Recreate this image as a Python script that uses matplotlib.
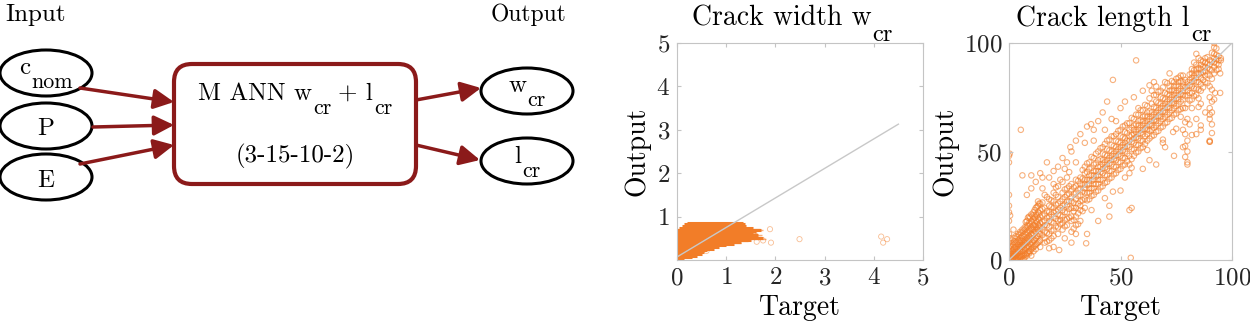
import matplotlib
matplotlib.use("Agg")
import matplotlib.pyplot as plt
from matplotlib.patches import Ellipse, FancyBboxPatch, FancyArrowPatch
from matplotlib.transforms import offset_copy

plt.rcParams['font.family'] = ['cmr10', 'DejaVu Serif']
plt.rcParams['mathtext.fontset'] = 'cm'
plt.rcParams['axes.formatter.use_mathtext'] = True

# ---- data ----
# crack width: dense block of predictions drawn as horizontal rows (output level, target from, target to)
w_rows = [0.02, 0.06, 0.10, 0.14, 0.18, 0.22, 0.26, 0.30, 0.34, 0.38, 0.42,
          0.46, 0.50, 0.54, 0.58, 0.62, 0.66, 0.70, 0.74, 0.78, 0.82, 0.86]
w_row_start = [0.0, 0.0, 0.0, 0.0, 0.0, 0.0, 0.0, 0.0, 0.0, 0.0, 0.0,
               0.0, 0.0, 0.0, 0.0, 0.0, 0.0, 0.0, 0.05, 0.1, 0.15, 0.2]
w_row_end = [0.15, 0.3, 0.4, 0.5, 0.55, 0.6, 0.75, 0.85, 1.0, 1.15, 1.3,
             1.5, 1.75, 1.6, 1.65, 1.55, 1.6, 1.7, 1.55, 1.4, 1.38, 1.35]
# thinner streaks sticking out of the block
w_streak = [0.40, 0.44, 0.48, 0.52, 0.57, 0.63, 0.69, 0.72]
w_streak_end = [1.3, 1.45, 1.8, 1.7, 1.72, 1.62, 1.75, 1.68]
w_out_target = [1.89, 1.91, 2.49, 4.15, 4.19, 4.27, 0.6, 1.62, 1.75, 1.55, 0.3]
w_out_output = [0.71, 0.40, 0.48, 0.54, 0.40, 0.48, 0.21, 0.42, 0.45, 0.62, 0.72]
w_fit = ([0.0, 4.5], [0.07, 3.13])

# crack length: columns of outputs per target value
l_cols = [0, 1, 2, 3, 4, 5, 6, 7, 8, 9, 10, 11, 12, 13, 14, 16, 18, 20, 22, 24,
          26, 28, 30, 32, 34, 36, 38, 40, 42, 44, 46, 48, 50, 52, 54, 56, 58,
          60, 62, 64, 66, 68, 70, 72, 74, 76, 78, 80, 82, 84, 86, 88, 90, 92, 94, 95]
l_col_out = [
    [0, 1, 2, 3, 5, 8, 12, 18, 22, 25, 30, 45, 48],
    [0, 1, 2, 4, 6, 9, 3],
    [0, 1, 3, 5, 7, 10, 2, 14],
    [1, 2, 4, 6, 8, 11, 3, 0],
    [1, 3, 5, 7, 9, 12, 0, 4],
    [2, 4, 6, 8, 10, 13, 1, 5],
    [2, 4, 6, 9, 11, 14, 0, 7],
    [3, 5, 7, 9, 12, 15, 1, 8],
    [3, 6, 8, 10, 13, 16, 2, 18],
    [4, 6, 9, 11, 14, 17, 3, 20],
    [5, 7, 10, 12, 15, 18, 2, 21],
    [6, 9, 12, 14, 16, 19, 22, 4],
    [7, 10, 13, 15, 18, 21, 24, 5],
    [8, 11, 14, 16, 19, 22, 25, 27],
    [9, 12, 15, 17, 20, 23, 26, 6],
    [10, 13, 16, 18, 21, 24, 8, 30],
    [12, 15, 18, 20, 22, 25, 9, 28],
    [14, 17, 20, 22, 24, 27, 11, 31],
    [15, 18, 21, 23, 26, 29, 12, 34],
    [17, 20, 23, 25, 28, 31, 14, 36],
    [19, 22, 25, 27, 30, 33, 16, 38],
    [20, 24, 27, 29, 32, 35, 18, 13],
    [12, 16, 20, 24, 28, 31, 34, 37],
    [18, 23, 27, 30, 33, 35, 38, 25],
    [24, 28, 31, 33, 35, 37, 40, 43],
    [28, 31, 33, 35, 37, 39, 42, 45],
    [30, 33, 35, 37, 39, 41, 44, 47],
    [32, 35, 37, 39, 41, 43, 46, 50],
    [34, 37, 40, 42, 44, 46, 49, 52],
    [36, 39, 42, 44, 46, 48, 51, 55],
    [38, 41, 44, 46, 48, 50, 53, 57],
    [40, 43, 46, 48, 50, 52, 55, 58],
    [42, 45, 48, 50, 52, 54, 57, 60],
    [44, 47, 50, 52, 54, 56, 59, 62],
    [40, 44, 48, 52, 55, 57, 60, 63],
    [48, 51, 54, 56, 58, 60, 62, 65],
    [50, 53, 56, 58, 60, 62, 64, 67],
    [52, 55, 58, 60, 62, 64, 66, 69],
    [55, 58, 60, 62, 64, 66, 68, 71],
    [57, 60, 62, 64, 66, 68, 72, 78],
    [59, 62, 64, 66, 68, 70, 73, 76],
    [61, 64, 66, 68, 70, 72, 75, 78],
    [63, 66, 68, 70, 72, 74, 77, 82],
    [65, 68, 70, 72, 74, 76, 78, 80],
    [67, 70, 72, 74, 76, 78, 80, 82],
    [69, 72, 74, 76, 78, 80, 82, 84],
    [60, 70, 74, 76, 78, 80, 82, 85],
    [45, 50, 55, 65, 72, 76, 78, 80, 82],
    [74, 77, 80, 82, 84, 86, 88, 70],
    [76, 79, 82, 84, 86, 88, 90, 95],
    [78, 81, 84, 86, 88, 90, 92, 60],
    [82, 85, 87, 89, 91, 93],
    [55, 65, 70, 75, 80, 85, 88, 90, 92],
    [86, 89, 91, 93, 95, 98, 100],
    [90, 92, 94],
    [92, 93],
]
l_cols_b = [0.5, 1.5, 2.5, 3.5, 4.5, 5.5, 6.5, 7.5, 8.5, 9.5, 10.5, 11.5, 12.5, 13.5,
            15, 17, 19, 21, 23, 25, 27, 29, 31, 33, 35, 37, 39, 41, 43, 45, 47, 49,
            51, 53, 55, 57, 59, 61, 63, 65, 67, 69, 71, 73, 75, 77, 79, 81, 83, 85,
            87, 89, 91, 93]
l_col_out_b = [
    [0.5, 1.5, 3.5, 6.5, 10, 20.5],
    [0.5, 2.5, 4.5, 7.5, 1],
    [0.5, 1.5, 3.5, 6, 8.5],
    [0.5, 2.5, 5, 7.5, 10.5],
    [1.5, 3.5, 6, 8.5, 11.5],
    [1.5, 4, 6.5, 9, 12.5, 0.5],
    [2, 4.5, 7.5, 10.5, 13.5, 0.5],
    [2.5, 5.5, 8.5, 11.5, 14.5, 17.5],
    [3.5, 6.5, 9.5, 12.5, 15.5, 19.5],
    [4, 7.5, 10.5, 13.5, 16.5, 19.5],
    [5.5, 8.5, 11.5, 14.5, 17.5, 20.5],
    [6.5, 9.5, 13, 16, 19.5, 23],
    [7.5, 11, 14.5, 17.5, 20.5, 24.5],
    [8.5, 12, 15.5, 18.5, 21.5, 26],
    [11.5, 14.5, 17.5, 20.5, 23.5, 26.5, 33],
    [12.5, 16, 19.5, 22.5, 8.5, 29],
    [13.5, 17.5, 21, 24.5, 27.5, 10],
    [15.5, 19, 22.5, 25.5, 30, 33.5],
    [16.5, 20.5, 24, 27, 18.5, 37],
    [18.5, 22, 25.5, 29, 32.5, 15.5],
    [19.5, 23.5, 27, 30.5, 34, 40.5],
    [14.5, 18.5, 22.5, 26.5, 30.5, 33.5, 24],
    [16.5, 21.5, 26, 29.5, 32.5, 36.5],
    [22.5, 27.5, 31.5, 34.5, 37.5, 41.5],
    [27.5, 31, 34.5, 37, 40.5, 44.5],
    [29.5, 33, 36.5, 39, 42.5, 47.5, 23],
    [31.5, 35, 38.5, 41, 44.5, 49],
    [33.5, 37, 40.5, 43, 46.5, 51.5],
    [35.5, 39, 42.5, 45, 48.5, 53.5, 28.5],
    [37.5, 41, 44.5, 47, 50.5, 55.5],
    [39.5, 43, 46.5, 49, 52.5, 57],
    [41.5, 45, 48.5, 51, 54.5, 59.5],
    [43.5, 47, 50.5, 53, 56.5, 61.5],
    [45.5, 49, 52.5, 55, 58.5, 63],
    [42.5, 46.5, 51, 54.5, 57.5, 61, 65.5],
    [49.5, 53, 56.5, 59, 62.5, 67],
    [51.5, 55, 58.5, 61, 64.5, 69],
    [53.5, 57, 60.5, 63, 66.5, 71.5],
    [56, 59.5, 62.5, 65, 68.5, 74.5, 80.5],
    [57.5, 61, 64.5, 67, 70.5, 76, 82],
    [59.5, 63, 66.5, 69, 72.5, 77.5],
    [61.5, 65, 68.5, 71, 74.5, 79.5, 55.5],
    [63.5, 67, 70.5, 73, 76.5, 81.5],
    [65.5, 69, 72.5, 75, 78.5, 82.5],
    [67.5, 71, 74.5, 77, 80.5, 83.5, 60.5],
    [69.5, 73, 76.5, 79, 82.5, 85],
    [47.5, 52.5, 58, 63.5, 70, 75.5, 79.5, 83],
    [73.5, 77, 80.5, 83, 85.5, 62.5],
    [75.5, 79, 82.5, 85, 87.5, 91],
    [70.5, 74.5, 78.5, 82, 85.5, 88.5, 93],
    [79.5, 83, 86.5, 89, 91.5],
    [81.5, 85.5, 88.5, 90.5, 93.5],
    [58.5, 62.5, 68, 73, 78.5, 83.5, 87.5, 91.5, 95.5],
    [87.5, 90.5, 92.5, 94.5, 97.5],
]
l_out_target = [57, 46.6, 35, 36.8, 5.3, 0.3, 27.5, 6, 10, 14, 17, 54, 54.6, 55,
                46.6, 77, 94.7, 94.7, 90, 22.5, 18, 34.6, 45, 90, 84, 82, 73.6,
                69, 62, 90, 92.4, 42, 44, 25, 20, 30, 38, 48, 58, 66, 72, 86,
                8, 10, 12, 15, 18, 20, 22, 24, 26, 28, 30, 32, 34, 38, 40, 43,
                46, 50, 52, 56, 60, 20, 25, 28, 35, 40, 45, 50, 52, 60, 63, 66,
                70, 74, 78, 80, 84, 86, 88, 92, 94]
l_out_output = [92, 83, 61.5, 62.6, 60, 49, 52, 39, 39, 40, 45, 23, 1, 24,
                31.5, 66, 86, 77, 54.5, 4.6, 5.4, 7.7, 20, 67, 65, 57.6, 59,
                54, 50.7, 54.5, 77, 68, 73, 42, 35, 45, 55, 64, 70, 80, 86, 72,
                30, 33, 36, 38, 38, 41, 43, 47, 45, 50, 55, 58, 54, 60, 64, 60,
                65, 70, 73, 75, 78, 6, 10, 8, 12, 18, 25, 32, 38, 42, 46, 44,
                52, 48, 52, 44, 58, 62, 68, 74, 88]
l_fit = ([0, 100], [0, 100])

orange = '#f27d28'
red = '#8b1a1a'
spine_grey = '#c4c4c4'

fig = plt.figure(figsize=(12.5, 3.27), dpi=100)
renderer = fig.canvas.get_renderer()


def sub_text(ax, x, y, parts, size, transform=None, ha='center'):
    # text with big, low subscripts like the original (parts: (string, is_sub, gap_px))
    transform = transform or ax.transData
    pieces = []
    cur = 0
    for s, is_sub, gap in parts:
        fs = size * 0.88 if is_sub else size
        dy = -size * 0.55 * 100 / 72 if is_sub else 0
        t = ax.text(x, y, s, fontsize=fs, ha='left', va='baseline', transform=transform)
        w = t.get_window_extent(renderer).width
        pieces.append((t, cur + gap, dy))
        cur += gap + w
    shift = -cur / 2 if ha == 'center' else 0
    for t, dx, dy in pieces:
        t.set_transform(offset_copy(transform, fig=fig, x=dx + shift, y=dy, units='dots'))


# ---- network diagram (drawn in pixel-like coordinates) ----
ax0 = fig.add_axes([0, 0, 600 / 1250, 1])
ax0.set_xlim(0, 600)
ax0.set_ylim(327, 0)
ax0.axis('off')

ax0.text(5, 15, 'Input', fontsize=18, ha='left', va='center')
ax0.text(566, 15, 'Output', fontsize=17, ha='right', va='center')

for cx, cy in [(46, 73), (46, 126), (46, 177), (527, 91), (527, 161)]:
    ax0.add_patch(Ellipse((cx, cy), 92, 46, fill=False, ec='black', lw=2.2))
sub_text(ax0, 46, 74, [('c', False, 0), ('nom', True, 1)], 18)
ax0.text(46, 135, 'P', fontsize=18, ha='center', va='baseline')
ax0.text(46, 187, 'E', fontsize=18, ha='center', va='baseline')
sub_text(ax0, 527, 92, [('w', False, 0), ('cr', True, 1)], 18)
sub_text(ax0, 527, 163, [('l', False, 0), ('cr', True, 1)], 18)

ax0.add_patch(FancyBboxPatch((174, 64), 242, 120, boxstyle='round,pad=0,rounding_size=18',
                             fc='white', ec=red, lw=3))
sub_text(ax0, 295, 100, [('M ANN w', False, 0), ('cr', True, 1), ('+ l', False, 7), ('cr', True, 1)], 18)
ax0.text(295, 162, '(3-15-10-2)', fontsize=18, ha='center', va='baseline')

for p0, p1 in [((80, 88), (174, 102)), ((93, 127), (174, 125)), ((80, 164), (174, 145)),
               ((416, 100), (481, 88)), ((416, 145), (480, 160))]:
    ax0.add_patch(FancyArrowPatch(p0, p1, arrowstyle='-|>', mutation_scale=30,
                                  color=red, lw=2.5, shrinkA=0, shrinkB=0))


def style(ax):
    for s in ax.spines.values():
        s.set_color(spine_grey)
        s.set_linewidth(0.8)
    ax.tick_params(direction='in', length=3, color=spine_grey, labelcolor='#262626',
                   labelsize=18, top=True, right=True, pad=5)


# ---- crack width ----
ax1 = fig.add_axes([677 / 1250, 67 / 327, 246 / 1250, 217 / 327])
ax1.hlines(w_rows, w_row_start, w_row_end, color=orange, lw=2.2)
ax1.hlines(w_streak, 0, w_streak_end, color=orange, lw=1, alpha=0.6)
ax1.scatter(w_out_target, w_out_output, s=14, facecolors='none', edgecolors=orange,
            linewidths=0.6, alpha=0.5)
ax1.plot(*w_fit, color='#c8c8c8', lw=1)
ax1.set_xlim(0, 5)
ax1.set_ylim(0, 5)
ax1.set_xticks([0, 1, 2, 3, 4, 5])
ax1.set_yticks([1, 2, 3, 4, 5])
ax1.set_xlabel('Target', fontsize=20, labelpad=4)
ax1.set_ylabel('Output', fontsize=20)
sub_text(ax1, 0.47, 1 + 17 / 217, [('Crack width w', False, 0), ('cr', True, 1)], 20,
         transform=ax1.transAxes)
style(ax1)

# ---- crack length ----
lx = []
ly = []
for cols, outs_list in [(l_cols, l_col_out), (l_cols_b, l_col_out_b)]:
    for t, outs in zip(cols, outs_list):
        for o in outs:
            lx.append(t)
            ly.append(o)
lx += l_out_target
ly += l_out_output

ax2 = fig.add_axes([1009 / 1250, 67 / 327, 223 / 1250, 217 / 327])
ax2.scatter(lx, ly, s=15, facecolors='none', edgecolors=orange, linewidths=0.8, alpha=0.6)
ax2.plot(*l_fit, color='#c8c8c8', lw=1)
ax2.set_xlim(0, 100)
ax2.set_ylim(0, 100)
ax2.set_xticks([0, 50, 100])
ax2.set_yticks([0, 50, 100])
ax2.set_xlabel('Target', fontsize=20, labelpad=4)
ax2.set_ylabel('Output', fontsize=20)
sub_text(ax2, 0.47, 1 + 17 / 217, [('Crack length l', False, 0), ('cr', True, 1)], 20,
         transform=ax2.transAxes)
style(ax2)

fig.savefig('out.png', dpi=100)
